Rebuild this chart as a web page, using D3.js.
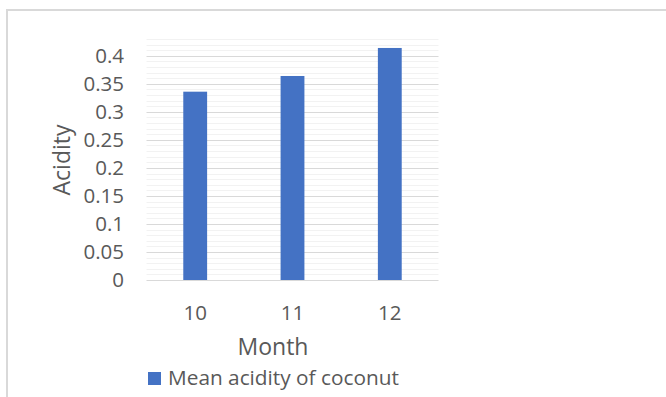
<!DOCTYPE html>
<html>
<head>
<meta charset="utf-8">
<script src="https://cdn.jsdelivr.net/npm/d3@7"></script>
<style>
  html, body { margin: 0; padding: 0; background: #fff; }
  svg { display: block; }
  text { font-family: "Open Sans", sans-serif; fill: #595959; }
</style>
</head>
<body>
<svg id="chart" width="666" height="397"></svg>
<script>
// Mean acidity by month
const months = ["10", "11", "12"];
const acidity = [0.336, 0.364, 0.414];
const yTicks = [0, 0.05, 0.1, 0.15, 0.2, 0.25, 0.3, 0.35, 0.4];
const yTickLabels = ["0", "0.05", "0.1", "0.15", "0.2", "0.25", "0.3", "0.35", "0.4"];
const minorTicks = d3.range(0, 44).map(i => i / 100);
const seriesName = "Mean acidity of coconut";

const svg = d3.select("#chart");

// chart frame (top and left edges)
svg.append("path")
  .attr("d", "M7,397 V10 H666")
  .attr("fill", "none")
  .attr("stroke", "#d9d9d9")
  .attr("stroke-width", 2);

const plot = { left: 146.5, right: 438.5, top: 39, bottom: 280 };

const x = d3.scaleBand()
  .domain(months)
  .range([plot.left, plot.right])
  .paddingInner(0.755)
  .paddingOuter(0.378);

const y = d3.scaleLinear()
  .domain([0, 0.43])
  .range([plot.bottom, plot.top]);

// minor gridlines
svg.append("g")
  .selectAll("line")
  .data(minorTicks.filter(v => Math.round(v * 100) % 5 !== 0))
  .join("line")
  .attr("x1", plot.left).attr("x2", plot.right)
  .attr("y1", d => Math.round(y(d)) + 0.5).attr("y2", d => Math.round(y(d)) + 0.5)
  .attr("stroke", "#f2f2f2").attr("stroke-width", 1);

// major gridlines
svg.append("g")
  .selectAll("line")
  .data(yTicks)
  .join("line")
  .attr("x1", plot.left).attr("x2", plot.right)
  .attr("y1", d => Math.round(y(d)) + 0.5).attr("y2", d => Math.round(y(d)) + 0.5)
  .attr("stroke", "#d9d9d9").attr("stroke-width", 1);

// bars
svg.append("g")
  .selectAll("rect")
  .data(months.map((m, i) => ({ m, v: acidity[i] })))
  .join("rect")
  .attr("x", d => x(d.m))
  .attr("y", d => y(d.v))
  .attr("width", x.bandwidth())
  .attr("height", d => y(0) - y(d.v))
  .attr("fill", "#4472c4");

// y axis labels
const yAxis = d3.axisLeft(y)
  .tickValues(yTicks)
  .tickFormat((d, i) => yTickLabels[i])
  .tickSize(0)
  .tickPadding(0);
const gy = svg.append("g")
  .attr("transform", `translate(124,0)`)
  .call(yAxis);
gy.select(".domain").remove();
gy.selectAll("text")
  .style("font-family", "'Open Sans', sans-serif")
  .style("font-size", "20.5px")
  .attr("fill", "#595959");

// x axis labels
const xAxis = d3.axisBottom(x).tickSize(0).tickPadding(0);
const gx = svg.append("g")
  .attr("transform", `translate(0,${plot.bottom})`)
  .call(xAxis);
gx.select(".domain").remove();
gx.selectAll("text")
  .attr("dy", null)
  .attr("y", 40)
  .style("font-family", "'Open Sans', sans-serif")
  .style("font-size", "20.5px")
  .attr("fill", "#595959");

// axis titles
svg.append("text")
  .attr("x", 273).attr("y", 355)
  .attr("text-anchor", "middle")
  .style("font-size", "23px")
  .text("Month");

svg.append("text")
  .attr("transform", "translate(70,160) rotate(-90)")
  .attr("text-anchor", "middle")
  .style("font-size", "23px")
  .text("Acidity");

// legend
svg.append("rect")
  .attr("x", 148).attr("y", 372)
  .attr("width", 13).attr("height", 13)
  .attr("fill", "#4472c4");
svg.append("text")
  .attr("x", 168).attr("y", 385)
  .style("font-size", "20.8px")
  .text(seriesName);
</script>
</body>
</html>
